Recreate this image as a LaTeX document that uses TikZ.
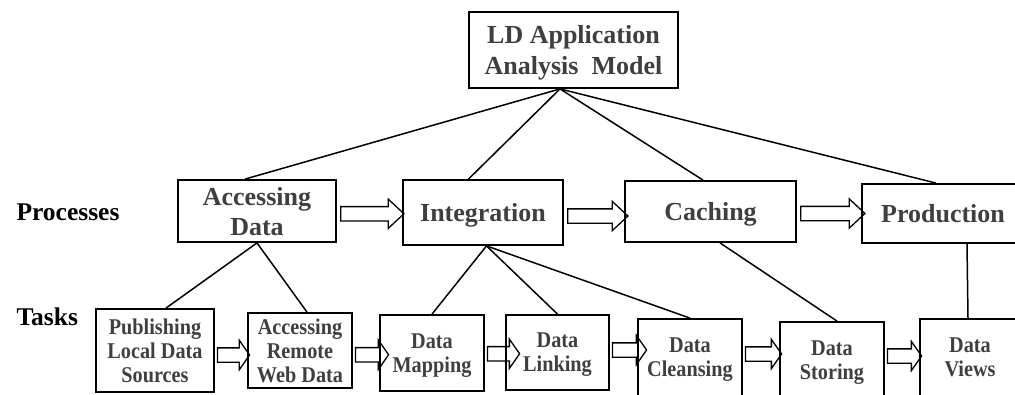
\documentclass[tikz,border=0pt]{standalone}
\usepackage{fontspec}
\setmainfont{Liberation Serif}
\newfontfamily\taskfont{Liberation Serif}[FakeStretch=0.9]
\usetikzlibrary{calc,shapes.arrows}
\definecolor{boxgray}{HTML}{3F3F3F}
\tikzset{
  box/.style={
    draw,
    rectangle,
    line width=1.8pt,
    inner sep=0pt,
    align=center,
    text depth=0pt,
    text=boxgray
  },
  process/.style={box,font=\fontsize{26}{30}\selectfont\bfseries},
  task/.style={box,font=\taskfont\fontsize{22.5}{23.8}\selectfont\bfseries},
  row label/.style={anchor=base west,font=\fontsize{25.5}{30}\selectfont\bfseries},
  tie/.style={line width=1.5pt},
  fat arrow/.style={
    single arrow,
    draw,
    line width=1.3pt,
    inner sep=0pt,
    inner ysep=6.5pt,
    single arrow head extend=7.5pt
  },
  big fat/.style={fat arrow,single arrow tip angle=86},
  small fat/.style={fat arrow,single arrow tip angle=110}
}
\newcommand{\fatarrow}[4][big fat]{%
  \path let \p1=(#2.east), \p2=([xshift=#4]#3.west) in
    node[#1,minimum height=\x2-\x1] at ($(\p1)!.5!(\p2)$) {};}

\begin{document}
\begin{tikzpicture}[x=1pt,y=-1pt]
\useasboundingbox (0,0) rectangle (1015,394);
\clip (0,0) rectangle (1015,394);

\node[box,font=\fontsize{26}{31}\selectfont\bfseries,minimum width=209,minimum height=76]
  (model) at (573.5,50) {LD Application\\Analysis~~Model};

\node[row label] (proclabel) at (13,220) {Processes};
\node[row label] (tasklabel) at (13,325) {Tasks};

\node[process,minimum width=158,minimum height=62] (acc)   at (257,211)   {Accessing\\Data};
\node[process,minimum width=160,minimum height=65] (integ) at (483,212.5) {Integration};
\node[process,minimum width=171,minimum height=61] (cach)  at (710.5,211.5) {Caching};
\node[process,minimum width=162,minimum height=59] (prod)  at (943,213.5) {Production};

\node[task,minimum width=118,minimum height=83] (pub)       at (155,350.5) {Publishing\\Local Data\\Sources};
\node[task,minimum width=104,minimum height=75] (remote)    at (300,350.5) {Accessing\\Remote\\Web Data};
\node[task,minimum width=104,minimum height=76] (mapping)   at (432,353)   {Data\\Mapping};
\node[task,minimum width=103,minimum height=75] (linking)   at (557.5,352.5) {Data\\Linking};
\node[task,minimum width=104,minimum height=77] (cleansing) at (690,357.5) {Data\\Cleansing};
\node[task,minimum width=104,minimum height=77] (storing)   at (832,360.5) {Data\\Storing};
\node[task,minimum width=100,minimum height=77] (views)     at (970,357.5) {Data\\Views};

\coordinate (apex) at ([xshift=-13.5pt]model.south);
\draw[tie] (apex) -- ([xshift=-12pt]acc.north);
\draw[tie] (apex) -- ([xshift=-14.5pt]integ.north);
\draw[tie] (apex) -- ([xshift=-7.5pt]cach.north);
\draw[tie] (apex) -- ([xshift=-7pt]prod.north);

\draw[tie] (acc.south) -- ([xshift=11pt]pub.north);
\draw[tie] (acc.south) -- ([xshift=7pt]remote.north);
\draw[tie] ([xshift=3.5pt]integ.south) -- (mapping.north);
\draw[tie] ([xshift=3.5pt]integ.south) -- (linking.north);
\draw[tie] ([xshift=3.5pt]integ.south) -- (cleansing.north);
\draw[tie] ([xshift=9.5pt]cach.south) -- ([xshift=5pt]storing.north);
\draw[tie] ([xshift=24pt]prod.south) -- ([xshift=-2pt]views.north);

\fatarrow[big fat,yshift=-2pt]{acc}{integ}{-2pt}
\fatarrow[big fat,yshift=-4pt]{integ}{cach}{0pt}
\fatarrow[big fat,yshift=-1pt]{cach}{prod}{0pt}

\fatarrow[small fat,yshift=-4.5pt]{pub}{remote}{0pt}
\fatarrow[small fat,yshift=-3pt]{remote}{mapping}{7pt}
\fatarrow[small fat,yshift=-1pt]{mapping}{linking}{12pt}
\fatarrow[small fat,yshift=5pt]{linking}{cleansing}{7pt}
\fatarrow[small fat,yshift=5pt]{cleansing}{storing}{0pt}
\fatarrow[small fat,yshift=3pt]{storing}{views}{0pt}
\end{tikzpicture}
\end{document}
